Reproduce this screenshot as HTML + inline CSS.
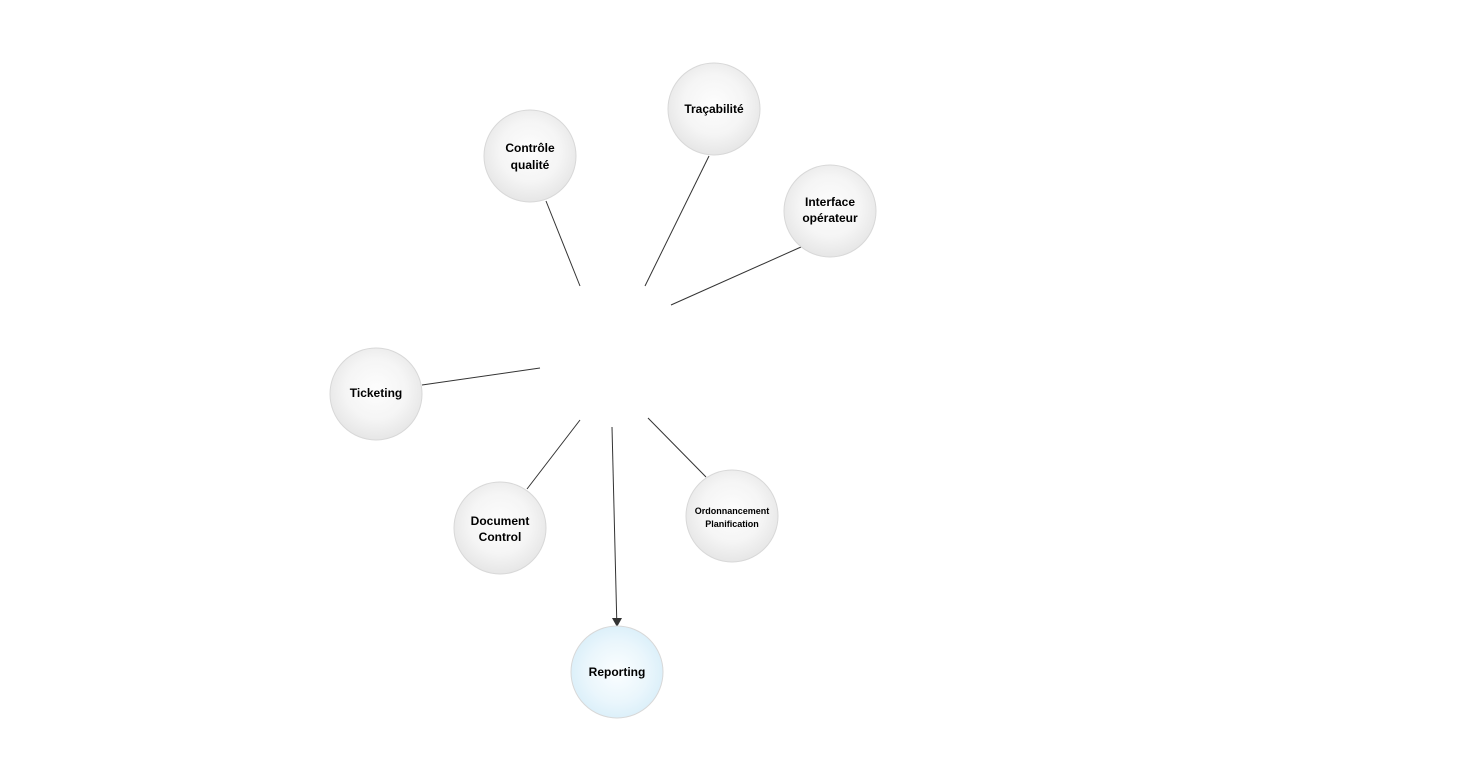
<!DOCTYPE html>
<html><head><meta charset="utf-8"><style>
html,body{margin:0;padding:0;background:#fff;width:1460px;height:765px;overflow:hidden}
svg text{font-family:"Liberation Sans",sans-serif;font-weight:bold;fill:#000;text-anchor:middle}
</style></head><body>
<svg width="1460" height="765" viewBox="0 0 1460 765">
<defs>
<radialGradient id="g" cx="50%" cy="45%" r="55%"><stop offset="0" stop-color="#fdfdfd"/><stop offset="0.6" stop-color="#f5f5f5"/><stop offset="1" stop-color="#e6e6e6"/></radialGradient>
<radialGradient id="b" cx="50%" cy="50%" r="55%"><stop offset="0" stop-color="#fbfeff"/><stop offset="0.6" stop-color="#eaf6fc"/><stop offset="1" stop-color="#d8eef9"/></radialGradient>
</defs>
<g stroke="#333" stroke-width="1">
<line x1="546" y1="201" x2="580" y2="286"/>
<line x1="709" y1="156" x2="645" y2="286"/>
<line x1="801" y1="247" x2="671" y2="305"/>
<line x1="422" y1="385" x2="540" y2="368"/>
<line x1="527" y1="489" x2="580" y2="420"/>
<line x1="706" y1="477" x2="648" y2="418"/>
<line x1="612" y1="427" x2="616.7" y2="618"/>
</g>
<polygon points="612,618 622,618 617,627" fill="#333"/>
<g stroke="#d8d8d8" stroke-width="1" fill="url(#g)">
<circle cx="530" cy="156" r="46"/>
<circle cx="714" cy="109" r="46"/>
<circle cx="830" cy="211" r="46"/>
<circle cx="376" cy="394" r="46"/>
<circle cx="500" cy="528" r="46"/>
<circle cx="732" cy="516" r="46"/>
<circle cx="617" cy="672" r="46" fill="url(#b)"/>
</g>
<text x="530" y="152" font-size="12">Contrôle</text>
<text x="530" y="169" font-size="12">qualité</text>
<text x="714" y="113" font-size="12">Traçabilité</text>
<text x="830" y="206" font-size="12">Interface</text>
<text x="830" y="222" font-size="12">opérateur</text>
<text x="376" y="397" font-size="12">Ticketing</text>
<text x="500" y="525" font-size="12">Document</text>
<text x="500" y="541" font-size="12">Control</text>
<text x="732" y="514" font-size="9">Ordonnancement</text>
<text x="732" y="527" font-size="9">Planification</text>
<text x="617" y="676" font-size="12">Reporting</text>
</svg>
</body></html>
